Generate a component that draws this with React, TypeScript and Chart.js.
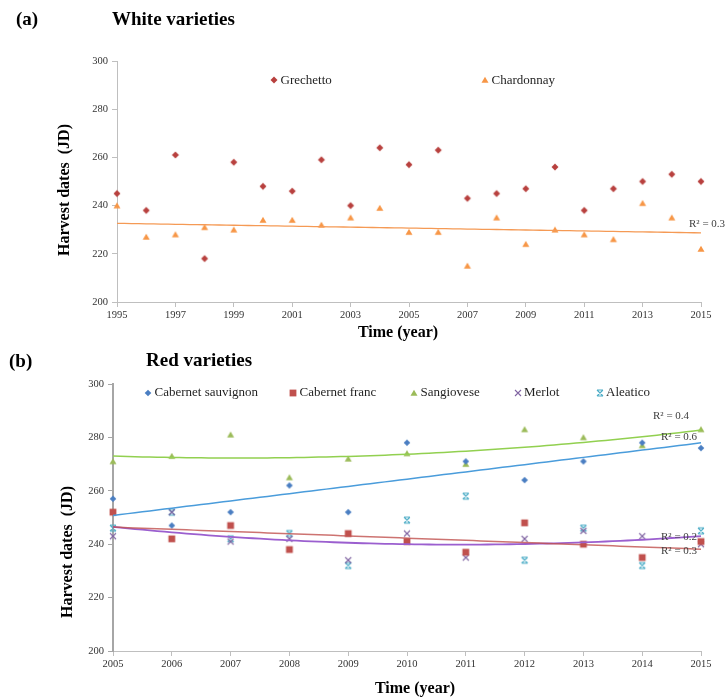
import React, { useEffect, useRef } from 'react';
import { Chart, registerables } from 'chart.js';

Chart.register(...registerables);

// ---- White varieties (1995–2015) ----
const whiteYears = [1995, 1996, 1997, 1998, 1999, 2000, 2001, 2002, 2003, 2004, 2005, 2006, 2007, 2008, 2009, 2010, 2011, 2012, 2013, 2014, 2015];
const grechettoDates = [245, 238, 261, 218, 258, 248, 246, 259, 240, 264, 257, 263, 243, 245, 247, 256, 238, 247, 250, 253, 250];
const chardonnayDates = [240, 227, 228, 231, 230, 234, 234, 232, 235, 239, 229, 229, 215, 235, 224, 230, 228, 226, 241, 235, 222];

// ---- Red varieties (2005–2015) ----
const redYears = [2005, 2006, 2007, 2008, 2009, 2010, 2011, 2012, 2013, 2014, 2015];
const cabernetSauvignonDates = [257, 247, 252, 262, 252, 278, 271, 264, 271, 278, 276];
const cabernetFrancDates = [252, 242, 247, 238, 244, 241, 237, 248, 240, 235, 241];
const sangioveseDates = [271, 273, 281, 265, 272, 274, 270, 283, 280, 277, 283];
const merlotDates = [243, 252, 241, 242, 234, 244, 235, 242, 245, 243, 240];
const aleaticoDates = [246, 252, 242, 244, 232, 249, 258, 234, 246, 232, 245];

// Harvest-date axis range (Julian day)
const dateAxisMin = 200;
const dateAxisMax = 300;
const dateAxisStep = 20;

// Coefficients of determination shown next to the trendlines
const chardonnayR2 = '0.3';
const sangioveseR2 = '0.4';
const cabernetSauvignonR2 = '0.6';
const merlotR2 = '0.2';
const cabernetFrancR2 = '0.3';

const SERIF = '"Liberation Serif", "Times New Roman", serif';
const TEXT = '#1f1f1f';
const AXIS = '#BFBFBF';

type Pt = { x: number; y: number };

// Least-squares polynomial fit (same as a spreadsheet trendline)
function polyFit(xs: number[], ys: number[], degree: number) {
  const n = degree + 1;
  const x0 = xs[0];
  const A: number[][] = Array.from({ length: n }, () => new Array(n + 1).fill(0));
  xs.forEach((xv, k) => {
    const t = xv - x0;
    for (let i = 0; i < n; i++) {
      for (let j = 0; j < n; j++) A[i][j] += Math.pow(t, i + j);
      A[i][n] += ys[k] * Math.pow(t, i);
    }
  });
  for (let c = 0; c < n; c++) {
    let p = c;
    for (let r = c + 1; r < n; r++) if (Math.abs(A[r][c]) > Math.abs(A[p][c])) p = r;
    [A[c], A[p]] = [A[p], A[c]];
    for (let r = 0; r < n; r++) {
      if (r === c) continue;
      const f = A[r][c] / A[c][c];
      for (let k = c; k <= n; k++) A[r][k] -= f * A[c][k];
    }
  }
  const coef = A.map((row, i) => row[n] / row[i]);
  return (x: number) => coef.reduce((s, cf, i) => s + cf * Math.pow(x - x0, i), 0);
}

function trendline(xs: number[], ys: number[], degree: number): Pt[] {
  const f = polyFit(xs, ys, degree);
  const a = xs[0];
  const b = xs[xs.length - 1];
  const steps = 80;
  const out: Pt[] = [];
  for (let i = 0; i <= steps; i++) {
    const x = a + ((b - a) * i) / steps;
    out.push({ x, y: f(x) });
  }
  return out;
}

const toPoints = (xs: number[], ys: number[]): Pt[] => xs.map((x, i) => ({ x, y: ys[i] }));

type MarkerKind = 'diamond' | 'triangle' | 'square' | 'cross' | 'star';

function makeMarker(kind: MarkerKind, color: string, scale = 1): HTMLCanvasElement {
  const size = 12;
  const c = document.createElement('canvas');
  c.width = size;
  c.height = size;
  const ctx = c.getContext('2d')!;
  const m = size / 2;
  ctx.fillStyle = color;
  ctx.strokeStyle = color;
  ctx.lineWidth = 1.1;
  ctx.beginPath();
  if (kind === 'diamond') {
    const r = 3.5 * scale;
    ctx.moveTo(m, m - r);
    ctx.lineTo(m + r, m);
    ctx.lineTo(m, m + r);
    ctx.lineTo(m - r, m);
    ctx.closePath();
    ctx.fill();
  } else if (kind === 'triangle') {
    ctx.moveTo(m, m - 3.3);
    ctx.lineTo(m + 3.5, m + 2.7);
    ctx.lineTo(m - 3.5, m + 2.7);
    ctx.closePath();
    ctx.fill();
  } else if (kind === 'square') {
    ctx.rect(m - 3.4, m - 3.4, 6.8, 6.8);
    ctx.fill();
  } else if (kind === 'cross') {
    ctx.moveTo(m - 3, m - 3);
    ctx.lineTo(m + 3, m + 3);
    ctx.moveTo(m + 3, m - 3);
    ctx.lineTo(m - 3, m + 3);
    ctx.stroke();
  } else {
    ctx.moveTo(m - 3, m - 3);
    ctx.lineTo(m + 3, m + 3);
    ctx.moveTo(m + 3, m - 3);
    ctx.lineTo(m - 3, m + 3);
    ctx.moveTo(m - 3, m - 3);
    ctx.lineTo(m + 3, m - 3);
    ctx.moveTo(m - 3, m + 3);
    ctx.lineTo(m + 3, m + 3);
    ctx.stroke();
  }
  return c;
}

type OverlayText = { text: string; x: number; y: number; font: string; color?: string; align?: CanvasTextAlign; rotate?: number };
type LegendEntry = { label: string; marker: HTMLCanvasElement; x: number; y: number };

// Draws panel titles, axis titles, the in-plot legend and R² labels
function makeOverlay(texts: OverlayText[], legend: LegendEntry[]) {
  return {
    id: 'overlay',
    afterDatasetsDraw(chart: Chart) {
      const ctx = chart.ctx;
      ctx.save();
      ctx.textBaseline = 'middle';
      texts.forEach((t) => {
        ctx.save();
        ctx.font = t.font;
        ctx.fillStyle = t.color || TEXT;
        ctx.textAlign = t.align || 'left';
        ctx.translate(t.x, t.y);
        if (t.rotate) ctx.rotate(t.rotate);
        ctx.fillText(t.text, 0, 0);
        ctx.restore();
      });
      legend.forEach((e) => {
        ctx.drawImage(e.marker, Math.round(e.x - e.marker.width / 2), Math.round(e.y - e.marker.height / 2));
        ctx.font = `13px ${SERIF}`;
        ctx.fillStyle = TEXT;
        ctx.textAlign = 'left';
        ctx.fillText(e.label, e.x + 6.5, e.y + 0.5);
      });
      ctx.restore();
    },
  };
}

function axes(xMin: number, xMax: number, xStep: number, yWidth: number, xHeight: number, yBorder: { color: string; width: number }) {
  const tickFont = { family: SERIF, size: 10.5 };
  return {
    x: {
      type: 'linear' as const,
      min: xMin,
      max: xMax,
      ticks: { stepSize: xStep, font: tickFont, color: '#333333', padding: 2, maxRotation: 0, callback: (v: any) => String(v) },
      grid: { drawOnChartArea: false, drawTicks: true, tickLength: 5, color: AXIS },
      border: { color: AXIS, width: 1 },
      afterFit: (s: any) => {
        s.height = xHeight;
      },
    },
    y: {
      min: dateAxisMin,
      max: dateAxisMax,
      ticks: { stepSize: dateAxisStep, font: tickFont, color: '#333333', padding: 4 },
      grid: { drawOnChartArea: false, drawTicks: true, tickLength: 5, color: yBorder.color },
      border: yBorder,
      afterFit: (s: any) => {
        s.width = yWidth;
      },
    },
  };
}

function scatterSeries(label: string, xs: number[], ys: number[], marker: HTMLCanvasElement) {
  return {
    label,
    data: toPoints(xs, ys),
    pointStyle: marker,
    pointRadius: 4,
    showLine: false,
    clip: false as const,
    order: 1,
  };
}

function trendSeries(label: string, xs: number[], ys: number[], degree: number, color: string, width: number) {
  return {
    label,
    data: trendline(xs, ys, degree),
    showLine: true,
    pointRadius: 0,
    borderColor: color,
    borderWidth: width,
    fill: false,
    clip: false as const,
    order: 0,
  };
}

const baseOptions = {
  responsive: false,
  animation: false as const,
  events: [] as any[],
  plugins: { legend: { display: false }, tooltip: { enabled: false } },
};

function WhitePanel() {
  const ref = useRef<HTMLCanvasElement>(null);
  useEffect(() => {
    const grechettoMarker = makeMarker('diamond', '#B8403E');
    const chardonnayMarker = makeMarker('triangle', '#F79646');
    const overlay = makeOverlay(
      [
        { text: '(a)', x: 16, y: 20, font: `bold 19px ${SERIF}`, color: '#000' },
        { text: 'White varieties', x: 112, y: 20, font: `bold 19px ${SERIF}`, color: '#000' },
        { text: 'Harvest dates  (JD)', x: 65, y: 190, font: `bold 16px ${SERIF}`, color: '#000', align: 'center', rotate: -Math.PI / 2 },
        { text: 'Time (year)', x: 398, y: 333, font: `bold 16px ${SERIF}`, color: '#000', align: 'center' },
        { text: `R² = ${chardonnayR2}`, x: 689, y: 224, font: `11px ${SERIF}`, color: '#404040' },
      ],
      [
        { label: 'Grechetto', marker: grechettoMarker, x: 274, y: 80 },
        { label: 'Chardonnay', marker: chardonnayMarker, x: 485, y: 80 },
      ]
    );
    const chart = new Chart(ref.current!, {
      type: 'scatter',
      data: {
        datasets: [
          trendSeries('Chardonnay trend', whiteYears, chardonnayDates, 1, '#F59A55', 1.3) as any,
          scatterSeries('Grechetto', whiteYears, grechettoDates, grechettoMarker),
          scatterSeries('Chardonnay', whiteYears, chardonnayDates, chardonnayMarker),
        ],
      },
      options: {
        ...baseOptions,
        layout: { padding: { left: 0, right: 24, top: 61, bottom: 0 } },
        scales: axes(1995, 2015, 2, 117, 43, { color: AXIS, width: 1 }) as any,
      },
      plugins: [overlay],
    });
    return () => chart.destroy();
  }, []);
  return <canvas ref={ref} width={725} height={345} style={{ position: 'absolute', left: 0, top: 0, width: 725, height: 345 }} />;
}

function RedPanel() {
  const ref = useRef<HTMLCanvasElement>(null);
  useEffect(() => {
    const cabSauvMarker = makeMarker('diamond', '#4A7EC2', 0.95);
    const cabFrancMarker = makeMarker('square', '#C0504D');
    const sangioveseMarker = makeMarker('triangle', '#9BBB59');
    const merlotMarker = makeMarker('cross', '#8064A2');
    const aleaticoMarker = makeMarker('star', '#4BACC6');
    const overlay = makeOverlay(
      [
        { text: '(b)', x: 9, y: 17, font: `bold 19px ${SERIF}`, color: '#000' },
        { text: 'Red varieties', x: 146, y: 16, font: `bold 19px ${SERIF}`, color: '#000' },
        { text: 'Harvest dates  (JD)', x: 68, y: 207, font: `bold 16px ${SERIF}`, color: '#000', align: 'center', rotate: -Math.PI / 2 },
        { text: 'Time (year)', x: 415, y: 344, font: `bold 16px ${SERIF}`, color: '#000', align: 'center' },
        { text: `R² = ${sangioveseR2}`, x: 653, y: 71, font: `11px ${SERIF}`, color: '#404040' },
        { text: `R² = ${cabernetSauvignonR2}`, x: 661, y: 92, font: `11px ${SERIF}`, color: '#404040' },
        { text: `R² = ${merlotR2}`, x: 661, y: 192, font: `11px ${SERIF}`, color: '#404040' },
        { text: `R² = ${cabernetFrancR2}`, x: 661, y: 206, font: `11px ${SERIF}`, color: '#404040' },
      ],
      [
        { label: 'Cabernet sauvignon', marker: cabSauvMarker, x: 148, y: 47.5 },
        { label: 'Cabernet franc', marker: cabFrancMarker, x: 293, y: 47.5 },
        { label: 'Sangiovese', marker: sangioveseMarker, x: 414, y: 47.5 },
        { label: 'Merlot', marker: merlotMarker, x: 517.5, y: 47.5 },
        { label: 'Aleatico', marker: aleaticoMarker, x: 599.5, y: 47.5 },
      ]
    );
    const chart = new Chart(ref.current!, {
      type: 'scatter',
      data: {
        datasets: [
          trendSeries('Sangiovese trend', redYears, sangioveseDates, 2, '#92D050', 1.5) as any,
          trendSeries('Cabernet sauvignon trend', redYears, cabernetSauvignonDates, 1, '#4A9CDB', 1.5),
          trendSeries('Cabernet franc trend', redYears, cabernetFrancDates, 1, 'rgba(192,80,77,0.8)', 1.5),
          trendSeries('Merlot trend', redYears, merlotDates, 2, '#9B5FCF', 1.8),
          scatterSeries('Cabernet sauvignon', redYears, cabernetSauvignonDates, cabSauvMarker),
          scatterSeries('Cabernet franc', redYears, cabernetFrancDates, cabFrancMarker),
          scatterSeries('Sangiovese', redYears, sangioveseDates, sangioveseMarker),
          scatterSeries('Merlot', redYears, merlotDates, merlotMarker),
          scatterSeries('Aleatico', redYears, aleaticoDates, aleaticoMarker),
        ],
      },
      options: {
        ...baseOptions,
        layout: { padding: { left: 0, right: 24, top: 39, bottom: 0 } },
        scales: axes(2005, 2015, 1, 113, 48, { color: '#A6A6A6', width: 2 }) as any,
      },
      plugins: [overlay],
    });
    return () => chart.destroy();
  }, []);
  return <canvas ref={ref} width={725} height={354} style={{ position: 'absolute', left: 0, top: 345, width: 725, height: 354 }} />;
}

export default function App() {
  return (
    <div style={{ position: 'absolute', left: 0, top: 0, width: 725, height: 699, background: '#fff', overflow: 'hidden' }}>
      <WhitePanel />
      <RedPanel />
    </div>
  );
}
